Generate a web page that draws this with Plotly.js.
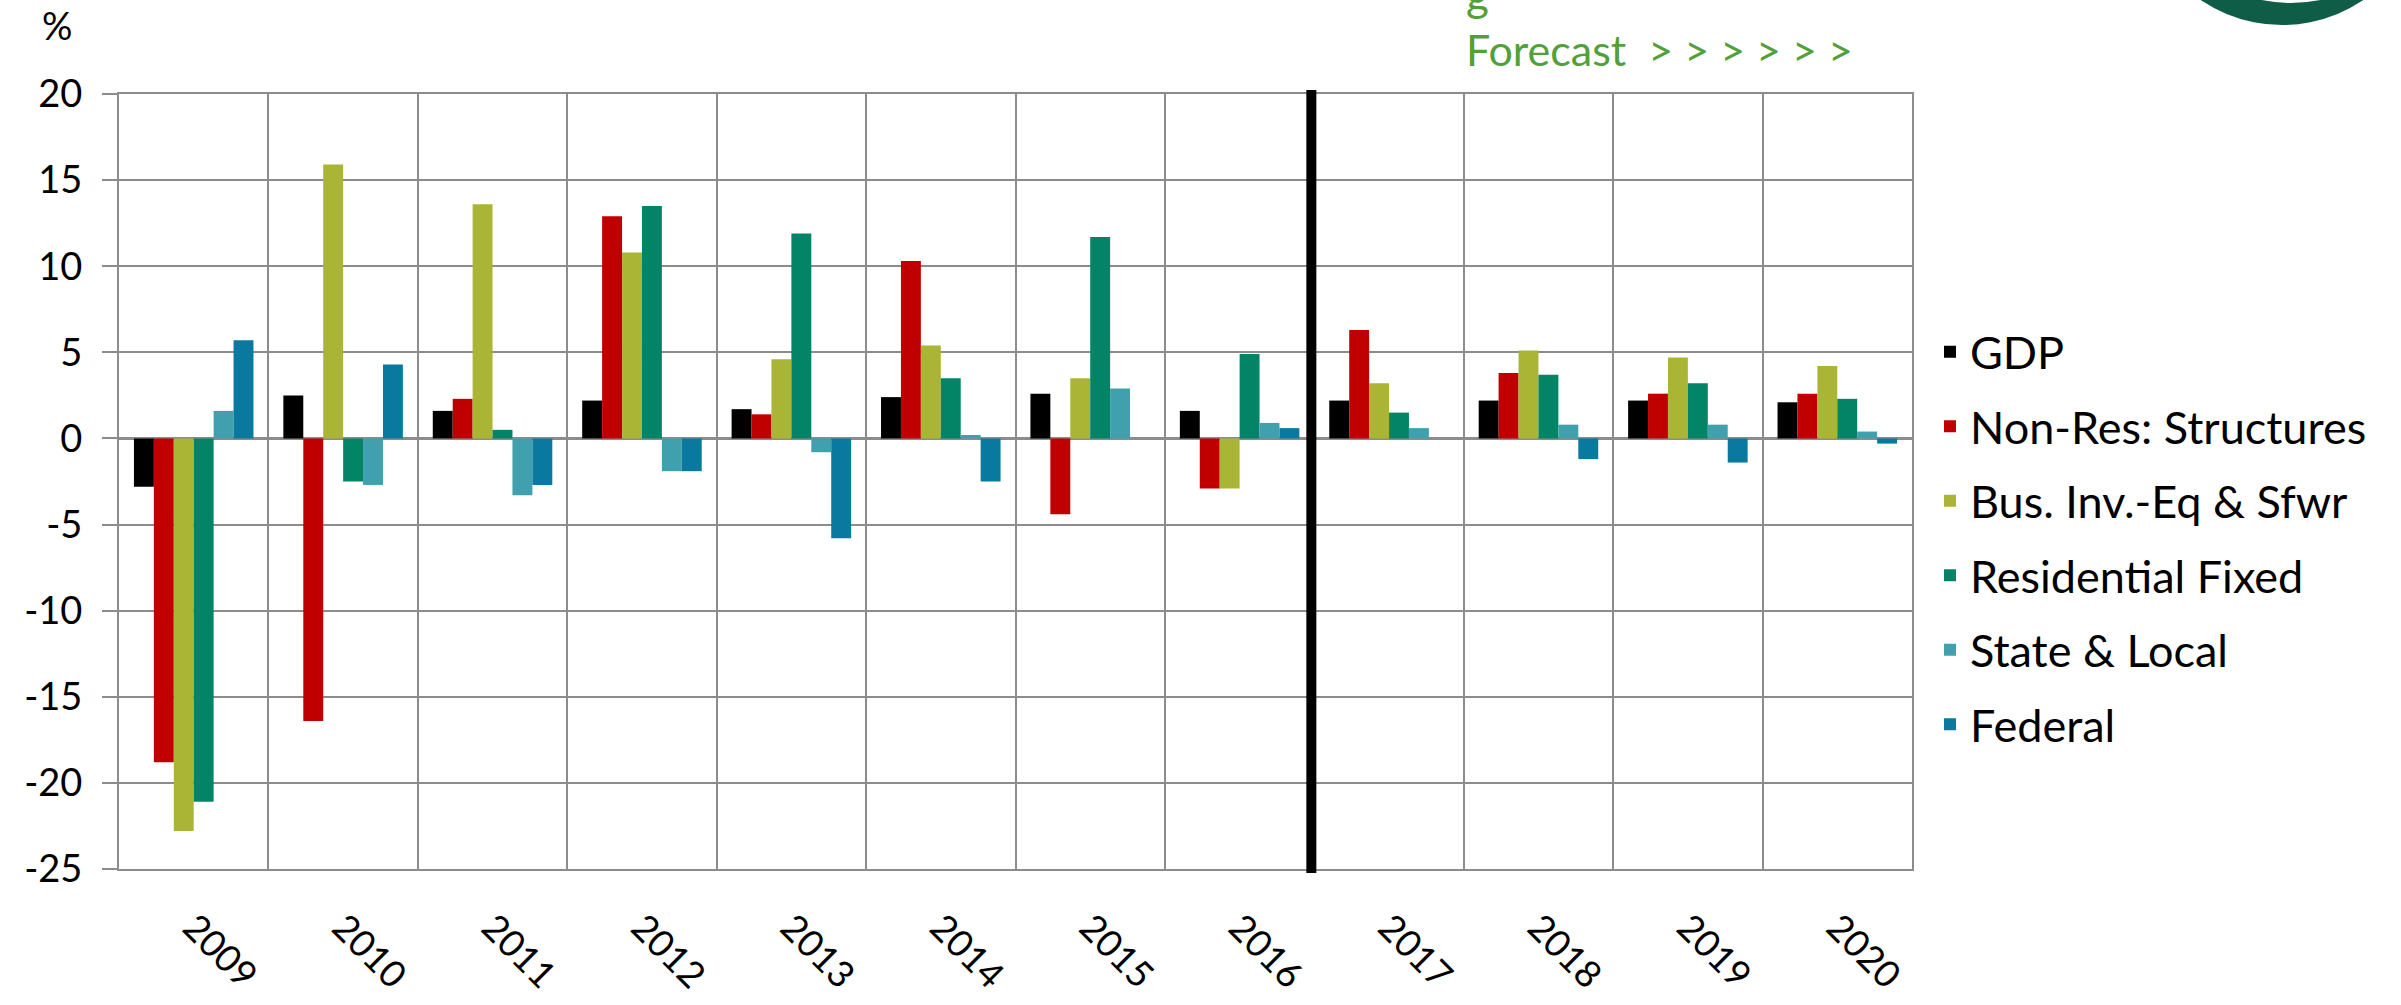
<!DOCTYPE html>
<html>
<head>
<meta charset="utf-8">
<script src="https://cdn.plot.ly/plotly-3.0.1.min.js"></script>
<style>
  html, body { margin: 0; padding: 0; background: #fff; }
  #plot { width: 2401px; height: 1005px; }
</style>
</head>
<body>
<div id="plot"></div>
<script>
// years on the category axis, first forecast year marks the divider
var years = ['2009','2010','2011','2012','2013','2014','2015','2016','2017','2018','2019','2020'];
var firstForecastYear = '2017';

// annual % change per component
var gdp         = [-2.8,  2.5,  1.6,  2.2,  1.7,  2.4,  2.6,  1.6,  2.2,  2.2,  2.2,  2.1];
var nonResStruc = [-18.8, -16.4, 2.3, 12.9,  1.4, 10.3, -4.4, -2.9,  6.3,  3.8,  2.6,  2.6];
var busInvEq    = [-22.8, 15.9, 13.6, 10.8,  4.6,  5.4,  3.5, -2.9,  3.2,  5.1,  4.7,  4.2];
var resFixed    = [-21.1, -2.5,  0.5, 13.5, 11.9,  3.5, 11.7,  4.9,  1.5,  3.7,  3.2,  2.3];
var stateLocal  = [ 1.6, -2.7, -3.3, -1.9, -0.8,  0.2,  2.9,  0.9,  0.6,  0.8,  0.8,  0.4];
var federal     = [ 5.7,  4.3, -2.7, -1.9, -5.8, -2.5,  0.0,  0.6,  0.0, -1.2, -1.4, -0.3];

var seriesNames  = ['GDP', 'Non-Res: Structures', 'Bus. Inv.-Eq & Sfwr', 'Residential Fixed', 'State & Local', 'Federal'];
var seriesValues = [gdp, nonResStruc, busInvEq, resFixed, stateLocal, federal];
var seriesColors = ['#000000', '#c00000', '#abb535', '#038466', '#40a0ae', '#0979a0'];

var fontFam = 'Lato, "Open Sans", sans-serif';
var gridCol = '#8c8c8c';

var traces = seriesNames.map(function (name, i) {
    return {
        type: 'bar',
        name: name,
        x: years,
        y: seriesValues[i],
        legendgroup: 'g' + i,
        marker: { color: seriesColors[i], line: { width: 0 } },
        hoverinfo: 'x+y+name'
    };
});

// helpers to place decorations in pixel terms relative to the plot area
var L = 119, R = 489, T = 94, B = 136, W = 2401, H = 1005;
function px(x) { return (x - L) / (W - L - R); }
function py(y) { return 1 - (y - T) / (H - T - B); }

var divider = years.indexOf(firstForecastYear) - 0.52;

var layout = {
    width: W,
    height: H,
    margin: { l: L, r: R, t: T, b: B },
    paper_bgcolor: '#ffffff',
    plot_bgcolor: '#ffffff',
    font: { family: fontFam, color: '#000000', size: 38 },
    barmode: 'group',
    bargap: 0.2,
    bargroupgap: 0,
    showlegend: true,
    legend: {
        x: px(1930), xanchor: 'left',
        y: py(538), yanchor: 'middle',
        font: { family: fontFam, size: 45, color: '#000000' },
        tracegroupgap: 13,
        traceorder: 'grouped',
        bgcolor: 'rgba(0,0,0,0)'
    },
    xaxis: {
        type: 'category',
        tickson: 'boundaries',
        ticks: '',
        showgrid: true,
        gridcolor: gridCol,
        gridwidth: 2,
        showline: true,
        mirror: true,
        linecolor: gridCol,
        linewidth: 2,
        tickangle: 45,
        tickfont: { family: fontFam, size: 37, color: '#000000' },
        ticklabelstandoff: 20
    },
    yaxis: {
        range: [-25, 20],
        tickvals: [-25, -20, -15, -10, -5, 0, 5, 10, 15, 20],
        ticktext: ['-25', '-20', '-15', '-10', '-5', '0', '5', '10', '15', '20'],
        showgrid: true,
        gridcolor: gridCol,
        gridwidth: 2,
        zeroline: true,
        zerolinecolor: gridCol,
        zerolinewidth: 3,
        showline: true,
        mirror: true,
        linecolor: gridCol,
        linewidth: 2,
        ticks: 'outside',
        ticklen: 15,
        tickwidth: 2,
        tickcolor: gridCol,
        tickfont: { family: fontFam, size: 38, color: '#000000' },
        ticklabelstandoff: 12
    },
    shapes: [
        // forecast divider
        {
            type: 'line', xref: 'x', yref: 'paper',
            x0: divider, x1: divider, y0: py(873), y1: py(90),
            line: { color: '#000000', width: 10 }
        },
        // logo, cut off at the top edge
        {
            type: 'circle', xref: 'paper', yref: 'paper',
            x0: px(2137), x1: px(2427), y0: py(25), y1: py(-265),
            fillcolor: '#0f5c47', line: { width: 0 }
        },
        {
            type: 'circle', xref: 'paper', yref: 'paper',
            x0: px(2140), x1: px(2442), y0: py(3), y1: py(-299),
            fillcolor: '#ffffff', line: { width: 0 }
        }
    ],
    annotations: [
        {
            text: '%', xref: 'paper', yref: 'paper',
            x: px(40), xanchor: 'left', y: py(0), yanchor: 'top',
            showarrow: false, font: { family: fontFam, size: 38, color: '#000000' }
        },
        {
            text: 'Forecast  > > > > > >', xref: 'paper', yref: 'paper',
            x: px(1464), xanchor: 'left', y: py(50), yanchor: 'middle',
            showarrow: false, font: { family: fontFam, size: 43, color: '#52a03a' }
        },
        {
            text: 'g', xref: 'paper', yref: 'paper',
            x: px(1464), xanchor: 'left', y: py(-6), yanchor: 'middle',
            showarrow: false, font: { family: fontFam, size: 44, color: '#52a03a' }
        }
    ]
};

Plotly.newPlot('plot', traces, layout, { displayModeBar: false, responsive: false });
</script>
</body>
</html>
